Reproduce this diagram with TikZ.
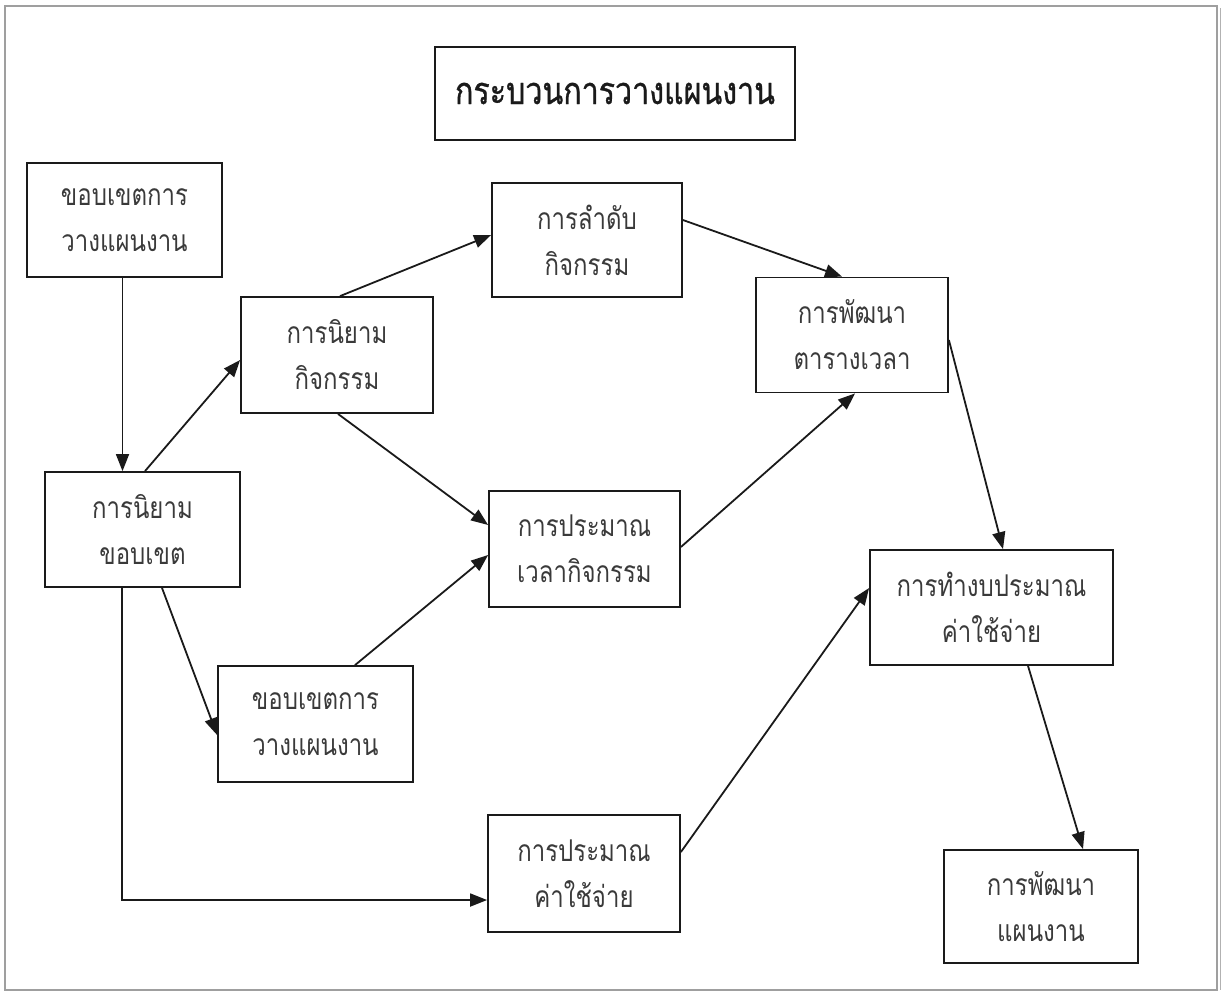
\documentclass[tikz,border=0pt]{standalone}
\usepackage{fontspec}
\newfontfamily\thaifont[Script=Thai,FakeStretch=0.8]{Loma}
\newfontfamily\thaititle[Script=Thai,FakeStretch=0.8,FakeBold=0.8]{Loma}
\usetikzlibrary{arrows.meta,calc}
\definecolor{ink}{HTML}{1A1A1A}
\definecolor{txt}{HTML}{3A3A3A}
\begin{document}
\begin{tikzpicture}[x=1pt,y=-1pt,
  stepbox/.style={draw=ink,line width=1.8pt,align=center,inner sep=0pt,
    font=\thaifont\fontsize{30}{46}\selectfont,text=txt},
  arr/.style={draw=ink,line width=1.8pt,-{Triangle[length=17pt,width=13pt]}}]
\useasboundingbox (0,0) rectangle (1225,999);
% outer frame
\draw[gray!75,line width=1.2pt] (5,6) rectangle (1217,990);
\draw[gray!60,line width=1pt] (1220,8) -- (1220,990);
% title
\node[draw=ink,line width=1.8pt,minimum width=360pt,minimum height=93pt,
  font=\thaititle\fontsize{38}{40}\selectfont,text=ink] (title) at (615,93.5) {กระบวนการวางแผนงาน};
% process boxes
\node[stepbox,minimum width=195pt,minimum height=114pt] (scopeA) at (124.5,220) {ขอบเขตการ\\วางแผนงาน};
\node[stepbox,minimum width=190pt,minimum height=114pt] (seq) at (587,240) {การลำดับ\\กิจกรรม};
\node[stepbox,minimum width=192pt,minimum height=115pt] (sched) at (852,335) {การพัฒนา\\ตารางเวลา};
\node[stepbox,minimum width=192pt,minimum height=116pt] (defact) at (337,355) {การนิยาม\\กิจกรรม};
\node[stepbox,minimum width=195pt,minimum height=115pt] (defsc) at (142.5,529.5) {การนิยาม\\ขอบเขต};
\node[stepbox,minimum width=191pt,minimum height=116pt] (durest) at (584.5,549) {การประมาณ\\เวลากิจกรรม};
\node[stepbox,minimum width=243pt,minimum height=115pt] (budget) at (991.5,607.5) {การทำงบประมาณ\\ค่าใช้จ่าย};
\node[stepbox,minimum width=195pt,minimum height=116pt] (scopeB) at (315.5,724) {ขอบเขตการ\\วางแผนงาน};
\node[stepbox,minimum width=192pt,minimum height=117pt] (costest) at (584,873.5) {การประมาณ\\ค่าใช้จ่าย};
\node[stepbox,minimum width=194pt,minimum height=113pt] (plan) at (1041,906.5) {การพัฒนา\\แผนงาน};
% connectors
\draw[arr] ([xshift=-2pt]scopeA.south) -- ([xshift=-2pt]scopeA.south |- defsc.north);
\draw[arr] ([xshift=2.5pt]defsc.north) -- ([yshift=-5pt]defact.west);
\draw[arr] ([xshift=19.5pt]defsc.south) -- ([yshift=-11pt]scopeB.west);
\draw[arr] ([xshift=-20.5pt]defsc.south) |- ([yshift=-26.5pt]costest.west);
\draw[arr] ([xshift=3pt]defact.north) -- ([yshift=5pt]seq.west);
\draw[arr] ([xshift=1pt]defact.south) -- ([yshift=24pt]durest.west);
\draw[arr] ([xshift=39.5pt]scopeB.north) -- ([yshift=-6pt]durest.west);
\draw[arr] ([yshift=20pt]seq.east) -- ([xshift=-10pt]sched.north);
\draw[arr] ([yshift=2pt]durest.east) -- ([xshift=3pt]sched.south);
\draw[arr] ([yshift=-5pt]sched.east) -- ([xshift=11.5pt]budget.north);
\draw[arr] ([yshift=21.5pt]costest.east) -- ([yshift=19.5pt]budget.west);
\draw[arr] ([xshift=36.5pt]budget.south) -- ([xshift=42pt]plan.north);
\end{tikzpicture}
\end{document}
